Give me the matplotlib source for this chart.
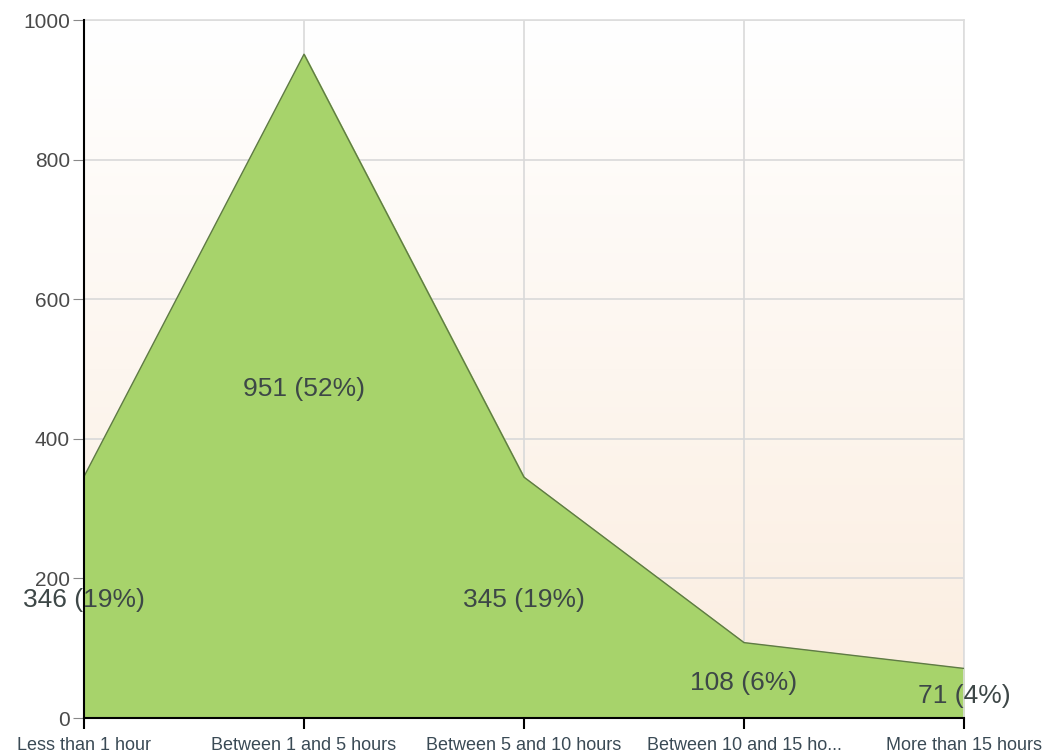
import matplotlib.pyplot as plt
import numpy as np

plt.rcParams['font.family'] = ['Liberation Sans', 'DejaVu Sans']

# data
categories = ["Less than 1 hour", "Between 1 and 5 hours", "Between 5 and 10 hours",
              "Between 10 and 15 ho...", "More than 15 hours"]
counts = [346, 951, 345, 108, 71]
percents = [19, 52, 19, 6, 4]
yticks = [0, 200, 400, 600, 800, 1000]

fig = plt.figure(figsize=(10.51, 7.53), dpi=100)
ax = fig.add_axes([84 / 1051, 35 / 753, 880 / 1051, 698 / 753])

x = np.arange(len(categories))

# background gradient: white at top, light peach at bottom
grad = np.linspace(0, 1, 256).reshape(-1, 1)
top = np.array([1.0, 1.0, 1.0])
bot = np.array([0xfb, 0xed, 0xdf]) / 255
img = top * (1 - grad[..., None]) + bot * grad[..., None]
ax.imshow(img, extent=[x[0], x[-1], 0, 1000], aspect='auto', zorder=0, origin='upper')

ax.fill_between(x, counts, 0, color="#a7d36b", zorder=2)
ax.plot(x, counts, color="#5f7a45", lw=1, zorder=3)

# value labels sit at half height of each point
for xi, c, p in zip(x, counts, percents):
    ax.text(xi, c / 2, f"{c} ({p}%)", ha="center", va="center_baseline",
            fontsize=19, color="#3d4747", zorder=4)

ax.set_xlim(x[0], x[-1])
ax.set_ylim(0, 1000)
ax.set_xticks(x)
ax.set_xticklabels(categories, fontsize=13, color="#3a4a55")
ax.set_yticks(yticks)
ax.set_yticklabels([str(v) for v in yticks], fontsize=15, color="#4a4a4a")

ax.grid(True, color="#d9d9d9", lw=1.2, zorder=1)
ax.set_axisbelow(True)

for s in ["top", "right"]:
    ax.spines[s].set_color("#dddddd")
    ax.spines[s].set_linewidth(1.2)
ax.spines["left"].set_color("black")
ax.spines["bottom"].set_color("black")
ax.spines["left"].set_linewidth(1.5)
ax.spines["bottom"].set_linewidth(1.5)
ax.spines["left"].set_zorder(5)
ax.spines["bottom"].set_zorder(5)

ax.tick_params(axis="y", length=8, color="#888888", pad=2)
ax.tick_params(axis="x", length=8, color="black", width=1.5, pad=6)

fig.savefig("out.png", dpi=100)
